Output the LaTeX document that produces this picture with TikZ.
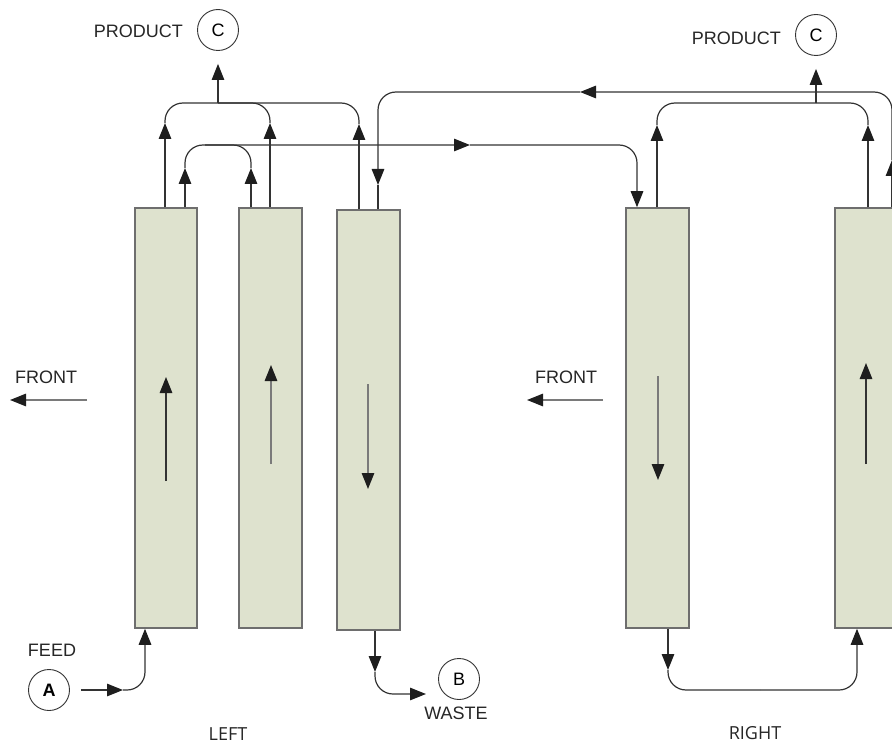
\documentclass[tikz,border=0pt]{standalone}
\usepackage{fontspec}
\setmainfont{Liberation Sans}
\newfontfamily\sidefont{Open Sans}
\usetikzlibrary{arrows.meta}
\definecolor{boxfill}{HTML}{DEE2CE}
\definecolor{boxline}{HTML}{6E6E6E}
\definecolor{pipeline}{HTML}{333333}
\definecolor{flowline}{HTML}{7A7A7A}
\definecolor{tipfill}{HTML}{1E1E1E}
\tikzset{
  Tri/.tip={Triangle[length=16pt,width=12.5pt,color=tipfill]},
  column/.style={rectangle, draw=boxline, fill=boxfill, line width=1.5pt,
    minimum width=62pt, minimum height=420pt, inner sep=0pt},
  port/.style={circle, draw=pipeline, line width=0.9pt, minimum size=41pt,
    inner sep=0pt, font=\fontsize{18}{20}\selectfont},
  lbl/.style={font=\fontsize{18}{20}\selectfont, text=black!85, inner sep=0pt},
  sidelbl/.style={font=\sidefont\fontsize{18}{20}\selectfont, text=black!85, inner sep=0pt},
  pipe/.style={draw=pipeline, line width=1.2pt},
  pipebend/.style={pipe, rounded corners=18pt},
  flow/.style={draw=flowline, line width=1.2pt, -Tri},
}
\begin{document}
\begin{tikzpicture}[x=1pt,y=-1pt]
\useasboundingbox (0,0) rectangle (892,749);
\clip (0,0) rectangle (892,749);

% columns
\node[column] (L1) at (166,418) {};
\node[column, minimum width=63pt] (L2) at (270.5,418) {};
\node[column, minimum width=63pt] (L3) at (368.5,420) {};
\node[column, minimum width=63pt] (R1) at (657.5,418) {};
\node[column, minimum width=63pt] (R2) at (866.5,418) {};

% flow direction inside each column
\coordinate (l1s) at (166,481); \coordinate (l1e) at (166,377);
\coordinate (l2s) at (271,464); \coordinate (l2e) at (271,365);
\coordinate (l3s) at (368,384); \coordinate (l3e) at (368,489);
\coordinate (r1s) at (658,376); \coordinate (r1e) at (658,480);
\coordinate (r2s) at (866,464); \coordinate (r2e) at (866,363);
\draw[flow, draw=pipeline] (l1s) -- (l1e);
\draw[flow] (l2s) -- (l2e);
\draw[flow] (l3s) -- (l3e);
\draw[flow] (r1s) -- (r1e);
\draw[flow, draw=pipeline] (r2s) -- (r2e);

% ports and labels
\node[port] (C1) at (218,30) {C};
\node[lbl, anchor=east] (prod1) at (183,31) {PRODUCT};
\node[port] (C2) at (816,35) {C};
\node[lbl, anchor=east] (prod2) at (781,38) {PRODUCT};
\node[port, font=\bfseries\fontsize{18}{20}\selectfont] (A) at (49,690) {A};
\node[lbl] (feed) at (52,650) {FEED};
\node[port] (B) at (459,679) {B};
\node[lbl] (waste) at (456,713) {WASTE};
\node[sidelbl] (left) at (228,734) {LEFT};
\node[sidelbl] (right) at (755,733) {RIGHT};
\node[lbl] (front1) at (46,377) {FRONT};
\node[lbl] (front2) at (566,377) {FRONT};

% front arrows
\coordinate (f1s) at (87,400); \coordinate (f1e) at (10,400);
\coordinate (f2s) at (603,400); \coordinate (f2e) at (527,400);
\draw[flow] (f1s) -- (f1e);
\draw[flow] (f2s) -- (f2e);

% column outlets and inlets
\coordinate (L1o1) at (L1.north -| 165,0);
\coordinate (L1o2) at (L1.north -| 185,0);
\coordinate (L2o1) at (L2.north -| 251,0);
\coordinate (L2o2) at (L2.north -| 270,0);
\coordinate (L3o1) at (L3.north -| 359,0);
\coordinate (L3i)  at (L3.north -| 378,0);
\coordinate (R1i)  at (R1.north -| 637,0);
\coordinate (R1o)  at (R1.north -| 657,0);
\coordinate (R2o1) at (R2.north -| 868,0);
\coordinate (R2o2) at (R2.north -| 892,0);
\coordinate (L1b)  at (L1.south -| 145,0);
\coordinate (L3b)  at (L3.south -| 375,0);
\coordinate (R1b)  at (R1.south -| 668,0);
\coordinate (R2b)  at (R2.south -| 857,0);

% arrow tips along the pipes
\coordinate (tL1a) at (165,123);
\coordinate (tL1b) at (185,168);
\coordinate (tL2a) at (251,168);
\coordinate (tL2b) at (270,123);
\coordinate (tL3a) at (359,124);
\coordinate (tL3i) at (378,185);
\coordinate (tR1)  at (657,125);
\coordinate (tR2a) at (868,125);
\coordinate (tR2b) at (892,160);
\coordinate (tA)   at (123,690);
\coordinate (tL3b) at (375,672);
\coordinate (tR1b) at (668,670);

% junctions on the headers
\coordinate (jP1) at (218,103);
\coordinate (jP2) at (816,103);
\coordinate (mid1) at (470,145);
\coordinate (hL)  at (205,145);
\coordinate (mid2) at (580,92);
\coordinate (w1)  at (426,694);
\coordinate (r1)  at (760,690);

% left product header
\draw[pipe,-Tri] (L1o1) -- (tL1a);
\draw[pipebend] (tL1a) |- (jP1);
\draw[pipe,-Tri] (L2o2) -- (tL2b);
\draw[pipebend] (tL2b) |- (jP1);
\draw[pipe,-Tri] (L3o1) -- (tL3a);
\draw[pipebend] (tL3a) |- (jP1);
\draw[pipe,-Tri,shorten >=13pt] (jP1) -- (C1);

% transfer line to the right unit
\draw[pipe,-Tri] (L1o2) -- (tL1b);
\draw[pipe,-Tri] (L2o1) -- (tL2a);
\draw[pipebend] (tL2a) |- (hL);
\draw[pipebend,-Tri] (tL1b) |- (mid1);
\draw[pipebend,-Tri] (mid1) -| (R1i);

% recycle line back to the left unit
\draw[pipe,-Tri] (R2o2) -- (tR2b);
\draw[pipebend,-Tri] (tR2b) |- (mid2);
\draw[pipebend,-Tri] (mid2) -| (tL3i);
\draw[pipe] (tL3i) -- (L3i);

% right product header
\draw[pipe,-Tri] (R1o) -- (tR1);
\draw[pipebend] (tR1) |- (jP2);
\draw[pipe,-Tri] (R2o1) -- (tR2a);
\draw[pipebend] (tR2a) |- (jP2);
\draw[pipe,-Tri,shorten >=13pt] (jP2) -- (C2);

% feed, waste and bottom crossover
\draw[pipe,-Tri,shorten <=11pt] (A) -- (tA);
\draw[pipebend,-Tri] (tA) -| (L1b);
\draw[pipe,-Tri] (L3b) -- (tL3b);
\draw[pipebend,-Tri] (tL3b) |- (w1);
\draw[pipe,-Tri] (R1b) -- (tR1b);
\draw[pipebend] (tR1b) |- (r1);
\draw[pipebend,-Tri] (r1) -| (R2b);
\end{tikzpicture}
\end{document}
